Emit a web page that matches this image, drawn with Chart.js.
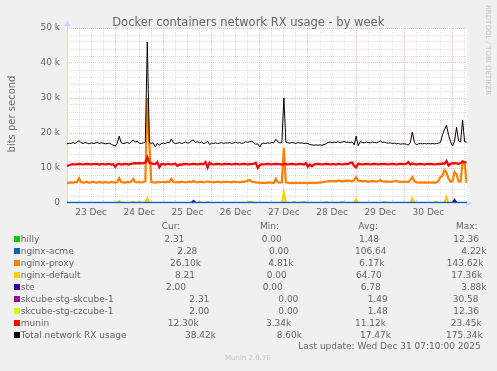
<!DOCTYPE html>
<html>
<head>
<meta charset="utf-8">
<title>Docker containers network RX usage - by week</title>
<script src="https://cdn.jsdelivr.net/npm/chart.js@4.4.1/dist/chart.umd.min.js"></script>
<style>
  html, body { margin: 0; padding: 0; background: #f0f0f0; }
  canvas { display: block; }
</style>
</head>
<body>
<canvas id="chart" width="497" height="371"></canvas>
<script>
// all rates in kbit/s, one sample per hour, first sample is 23 Dec 00:00
let sample_step_hours = 1;
let end_hour = 199.2; // 31 Dec 07:10

let day_labels = ["23 Dec", "24 Dec", "25 Dec", "26 Dec", "27 Dec", "28 Dec", "29 Dec", "30 Dec"];
let y_tick_values = [0, 10, 20, 30, 40, 50];

let total_rx = [
    16.9,17.1,17.0,17.3,17.0,17.4,17.8,17.2,17.0,17.3,17.1,16.9,17.2,17.0,17.1,17.4,17.0,17.2,17.1,16.9,17.0,17.1,16.8,16.5,
    16.3,17.0,19.1,17.2,17.0,17.1,17.3,17.0,17.5,18.0,17.4,17.7,17.1,17.0,17.2,17.4,46.0,17.3,17.0,17.2,16.0,17.1,16.5,17.0,
    17.1,17.0,17.3,17.2,18.3,17.2,17.0,17.1,17.3,17.0,17.2,17.4,17.1,17.2,17.8,18.0,17.3,17.5,17.2,17.4,17.0,17.1,17.7,16.7,
    17.1,17.0,17.2,17.0,17.1,17.3,17.0,17.2,17.1,17.3,17.0,17.2,17.4,17.1,17.3,17.0,17.2,17.5,17.3,17.5,17.7,17.1,16.8,16.9,
    16.0,17.0,17.1,17.0,17.2,17.1,17.3,17.2,18.2,17.5,17.2,17.3,30.0,17.4,17.2,17.1,17.3,17.2,17.0,17.3,17.1,17.2,17.0,17.1,
    17.0,16.7,16.6,16.5,16.6,16.5,16.6,16.5,16.7,16.9,17.3,17.4,17.2,17.4,17.3,17.5,17.2,17.4,17.6,17.3,17.4,17.2,17.5,16.6,
    19.1,16.4,17.5,17.3,17.2,17.4,17.3,17.2,17.4,17.3,17.2,17.4,17.7,17.3,17.4,17.2,17.1,17.2,17.0,17.1,16.9,17.0,16.8,16.9,
    16.9,16.8,16.5,17.4,20.3,17.3,16.6,16.9,17.0,16.9,17.0,16.9,17.0,16.9,17.0,16.9,17.0,17.1,17.3,19.5,21.0,22.2,19.5,17.5,
    16.3,17.7,21.6,17.8,17.4,23.7,17.5,17.4
];

let munin_rx = [
    10.6,10.8,11.0,11.1,11.0,11.1,11.2,11.1,11.0,11.1,11.2,11.1,11.0,11.1,11.1,11.2,11.0,11.1,11.1,11.0,11.1,11.2,11.0,11.1,
    10.3,11.1,11.2,11.0,11.1,11.2,11.1,11.0,11.2,11.3,11.4,11.3,11.4,11.3,11.4,11.5,13.1,11.5,11.3,11.2,11.1,11.7,10.2,11.1,
    11.1,11.0,11.2,11.1,11.0,11.1,11.2,10.6,11.0,10.9,11.1,11.2,11.1,11.0,11.1,11.2,11.1,11.0,11.1,11.2,11.1,11.7,10.1,11.5,
    11.1,11.0,11.1,11.2,11.1,11.0,11.1,11.2,11.1,11.1,11.0,11.1,11.2,11.1,11.0,11.1,11.2,11.1,11.0,11.1,11.1,11.2,11.5,10.0,
    10.8,11.1,11.0,11.1,11.2,11.1,11.0,11.1,11.2,11.1,11.1,11.0,11.2,11.1,11.0,11.1,11.2,11.1,11.0,11.1,11.2,11.1,11.0,11.4,
    10.4,11.0,10.5,11.0,11.1,11.2,11.1,11.0,11.1,11.2,11.1,11.0,11.1,11.1,11.0,11.2,11.1,11.0,11.1,11.2,11.1,11.5,11.6,10.6,
    10.2,11.2,11.1,11.0,11.1,11.2,11.1,11.0,11.1,11.2,11.1,11.0,11.1,11.1,11.2,11.1,11.0,11.1,11.2,11.1,11.0,11.1,11.2,11.1,
    11.1,11.2,11.7,11.0,11.3,11.1,11.0,11.1,11.2,11.1,11.0,11.1,11.1,11.2,11.1,11.0,11.1,11.2,11.1,11.3,11.2,12.0,10.7,11.2,
    11.3,11.4,11.3,11.2,11.4,11.9,11.6,11.7
];

let proxy_rx = [
    5.7,5.8,5.9,5.8,6.0,5.9,7.1,6.0,5.8,5.9,6.0,5.8,5.9,6.1,5.9,5.8,6.0,5.9,5.8,6.0,5.9,5.8,6.0,5.9,
    5.8,6.0,7.1,6.0,5.9,5.8,6.0,5.9,6.1,6.9,6.0,5.9,6.0,5.8,6.0,6.2,30.0,17.0,6.0,5.9,5.8,6.0,5.9,6.0,
    6.0,5.9,6.1,6.0,6.9,6.0,5.9,6.0,5.9,6.1,6.0,5.9,6.0,6.1,6.0,6.3,6.0,5.9,6.0,6.1,5.9,6.0,6.2,6.0,
    6.0,5.9,6.0,6.1,6.0,5.9,6.0,6.1,6.0,6.0,5.9,6.1,6.0,6.0,5.9,6.1,6.0,6.2,6.4,6.6,6.1,6.0,5.9,5.8,
    5.8,5.7,5.8,5.7,5.8,5.9,5.8,5.7,6.9,6.0,5.8,5.9,15.7,5.9,5.8,5.7,5.8,5.7,5.8,5.7,5.8,5.7,5.8,5.7,
    5.7,5.8,5.7,5.8,5.7,5.9,5.8,5.9,6.0,6.1,6.2,6.3,6.2,6.3,6.2,6.4,6.3,6.2,6.3,6.4,6.3,6.4,6.2,6.5,
    7.4,6.4,6.3,6.2,6.3,6.2,6.1,6.2,6.3,6.2,6.1,6.2,6.5,6.2,6.1,6.2,6.1,6.0,6.1,6.2,6.4,6.1,6.0,6.1,
    6.0,6.1,6.0,6.6,7.4,6.2,5.9,5.8,5.9,5.8,5.9,5.8,5.9,5.8,5.9,5.8,5.9,6.3,7.4,7.8,9.4,8.7,7.0,6.1,
    6.3,8.9,8.2,6.2,6.1,11.7,11.6,5.8
];

// nginx-default and ste are ~0 except for a few short bursts
let default_spike_hours  = [26, 33, 36, 40, 66, 70, 91, 92, 108, 113, 118, 129, 137, 144, 158, 172, 184, 189];
let default_spike_values = [0.6, 0.3, 0.3, 1.4, 0.3, 0.3, 0.4, 0.3, 3.0, 0.3, 0.3, 0.3, 0.3, 1.1, 0.3, 1.4, 0.3, 1.7];
let ste_spike_hours  = [63, 193];
let ste_spike_values = [0.6, 0.9];

// the rest stay flat near zero (avg from the legend)
let hilly_avg = 0.00148;
let acme_avg = 0.10664;
let skcube_avg = 0.00149;
let czcube_avg = 0.00148;

let series_names = ["hilly", "nginx-acme", "nginx-proxy", "nginx-default", "ste",
    "skcube-stg-skcube-1", "skcube-stg-czcube-1", "munin", "Total network RX usage"];
let legend_cur = ["2.31", "2.28", "26.10k", "8.21", "2.00", "2.31", "2.00", "12.30k", "38.42k"];
let legend_min = ["0.00", "0.00", "4.81k", "0.00", "0.00", "0.00", "0.00", "3.34k", "8.60k"];
let legend_avg = ["1.48", "106.64", "6.17k", "64.70", "6.78", "1.49", "1.48", "11.12k", "17.47k"];
let legend_max = ["12.36", "4.22k", "143.62k", "17.36k", "3.88k", "30.58", "12.36", "23.45k", "175.34k"];
let last_update = "Last update: Wed Dec 31 07:10:00 2025";

let series_colors = ["#00cc00", "#0066b3", "#ff8000", "#ffcc00", "#330099",
    "#990099", "#ccff00", "#ff0000", "#000000"];

// x of each legend cell (cur, min, avg, max), rrdtool tab layout
let legend_cell_x = [
    [164.3, 261.7, 359.0, 453.3],
    [177.3, 269.0, 355.0, 461.3],
    [170.0, 268.3, 359.3, 446.7],
    [175.0, 266.7, 356.0, 451.3],
    [166.0, 262.7, 360.7, 461.3],
    [189.3, 278.3, 367.7, 452.7],
    [189.3, 278.3, 367.7, 453.3],
    [167.7, 266.0, 355.0, 450.7],
    [185.0, 276.7, 360.0, 446.0],
];
let legend_head_x = [161.7, 260.0, 358.3, 456.0];

const FONT = '"DejaVu Sans", sans-serif';
const TEXT = '#666666';

function as_points(values) {
    return values.map((v, i) => ({x: i * sample_step_hours, y: v}));
}

function spikes_to_points(hours, values) {
    let pts = [];
    for (let i = 0; i < total_rx.length; i++) {
        let h = i * sample_step_hours;
        let k = hours.indexOf(h);
        pts.push({x: h, y: k >= 0 ? values[k] : 0});
    }
    return pts;
}

function flat_points(level) {
    return [{x: 0, y: level}, {x: (total_rx.length - 1) * sample_step_hours, y: level}];
}

let series_points = [
    flat_points(hilly_avg),
    flat_points(acme_avg),
    as_points(proxy_rx),
    spikes_to_points(default_spike_hours, default_spike_values),
    spikes_to_points(ste_spike_hours, ste_spike_values),
    flat_points(skcube_avg),
    flat_points(czcube_avg),
    as_points(munin_rx),
    as_points(total_rx),
];
let line_widths = [1.5, 2, 2.2, 2, 2, 1.5, 1.5, 2.2, 1];
// lower order is painted later (on top); nginx-acme must cover the zero line
let draw_order = [8, 3, 2, 4, 5, 7, 6, 1, 0];

let munin_frame = {
    id: 'munin_frame',
    beforeDraw(chart) {
        const {ctx, chartArea: a} = chart;
        ctx.save();
        ctx.fillStyle = '#f0f0f0';
        ctx.fillRect(0, 0, chart.width, chart.height);
        ctx.fillStyle = '#ffffff';
        ctx.fillRect(a.left, a.top, a.right - a.left, a.bottom - a.top);
        ctx.restore();
    },
    beforeDatasetsDraw(chart) {
        const {ctx, chartArea: a} = chart;
        ctx.save();
        ctx.strokeStyle = '#cfd6f8';
        ctx.fillStyle = '#cfd6f8';
        ctx.lineWidth = 1;
        let x0 = Math.round(a.left) + 0.5, y0 = Math.round(a.bottom) + 0.5;
        ctx.beginPath();
        ctx.moveTo(x0, y0); ctx.lineTo(x0, a.top - 4);
        ctx.moveTo(x0, y0); ctx.lineTo(a.right + 2, y0);
        ctx.stroke();
        ctx.beginPath();
        ctx.moveTo(x0, a.top - 8); ctx.lineTo(x0 - 3, a.top - 2); ctx.lineTo(x0 + 3, a.top - 2);
        ctx.fill();
        ctx.beginPath();
        ctx.moveTo(a.right + 5, y0); ctx.lineTo(a.right - 1, y0 - 3); ctx.lineTo(a.right - 1, y0 + 3);
        ctx.fill();
        ctx.restore();
    },
    afterDraw(chart) {
        const {ctx} = chart;
        ctx.save();
        ctx.fillStyle = TEXT;
        ctx.textAlign = 'center';
        ctx.textBaseline = 'alphabetic';
        ctx.font = '11.5px ' + FONT;
        ctx.fillText("Docker containers network RX usage - by week", 248.3, 26);

        ctx.save();
        ctx.translate(12, 114);
        ctx.rotate(-Math.PI / 2);
        ctx.textBaseline = 'middle';
        ctx.font = '10px ' + FONT;
        ctx.fillText("bits per second", 0, 0);
        ctx.restore();

        ctx.save();
        ctx.translate(488, 5);
        ctx.rotate(Math.PI / 2);
        ctx.textAlign = 'left';
        ctx.textBaseline = 'middle';
        ctx.font = '7px ' + FONT;
        ctx.fillStyle = '#c4c4c4';
        ctx.fillText("RRDTOOL / TOBI OETIKER", 0, 0);
        ctx.restore();

        ctx.textAlign = 'left';
        ctx.textBaseline = 'middle';
        ctx.font = '9px ' + FONT;
        ["Cur:", "Min:", "Avg:", "Max:"].forEach((t, i) => ctx.fillText(t, legend_head_x[i], 226.7));
        for (let r = 0; r < series_names.length; r++) {
            let y = 239.3 + r * 12;
            ctx.fillStyle = series_colors[r];
            ctx.fillRect(14, Math.round(y) - 3, 6, 6);
            ctx.fillStyle = TEXT;
            ctx.fillText(series_names[r], 20.7, y);
            let cells = [legend_cur[r], legend_min[r], legend_avg[r], legend_max[r]];
            cells.forEach((t, c) => ctx.fillText(t, legend_cell_x[r][c], y));
        }
        ctx.fillText(last_update, 298.3, 346.7);

        ctx.font = '7px ' + FONT;
        ctx.fillStyle = '#c4c4c4';
        ctx.fillText("Munin 2.0.76", 225, 358.3);
        ctx.restore();
    }
};

let grid_major = 'rgba(225, 120, 120, 0.45)';
let grid_minor = 'rgba(165, 165, 165, 0.35)';

new Chart(document.getElementById('chart'), {
    type: 'line',
    data: {
        datasets: series_names.map((name, i) => ({
            label: name,
            data: series_points[i],
            borderColor: series_colors[i],
            borderWidth: line_widths[i],
            order: draw_order[i],
            pointRadius: 0,
            tension: 0,
            fill: false,
        })),
    },
    options: {
        responsive: false,
        animation: false,
        devicePixelRatio: 1,
        layout: {padding: {left: 0, top: 28, right: 30, bottom: 0}},
        plugins: {
            legend: {display: false},
            title: {display: false},
            tooltip: {enabled: false},
        },
        scales: {
            x: {
                type: 'linear',
                min: 0,
                max: end_hour,
                afterFit(scale) { scale.height = 168; },
                afterBuildTicks(scale) {
                    let t = [];
                    for (let h = 0; h < end_hour; h += 6) t.push({value: h});
                    scale.ticks = t;
                },
                ticks: {
                    autoSkip: false,
                    maxRotation: 0,
                    padding: 4,
                    color: TEXT,
                    font: {family: FONT, size: 9},
                    callback: (v) => (v % 24 === 12 ? day_labels[(v - 12) / 24] : ''),
                },
                grid: {
                    drawTicks: false,
                    lineWidth: 1,
                    color: (c) => (c.tick && c.tick.value % 24 === 0 ? grid_major : grid_minor),
                },
                border: {display: false, dash: [1, 1]},
            },
            y: {
                min: 0,
                max: 50,
                afterFit(scale) { scale.width = 67; },
                afterBuildTicks(scale) {
                    let t = [];
                    for (let v = 0; v <= 50; v += 2) t.push({value: v});
                    scale.ticks = t;
                },
                ticks: {
                    autoSkip: false,
                    padding: 7,
                    color: TEXT,
                    font: {family: FONT, size: 9},
                    callback: (v) => (y_tick_values.includes(v) ? (v === 0 ? '0' : v + ' k') : ''),
                },
                grid: {
                    drawTicks: false,
                    lineWidth: 1,
                    color: (c) => (c.tick && c.tick.value % 10 === 0 ? grid_major : grid_minor),
                },
                border: {display: false, dash: [1, 1]},
            },
        },
    },
    plugins: [munin_frame],
});
</script>
</body>
</html>
